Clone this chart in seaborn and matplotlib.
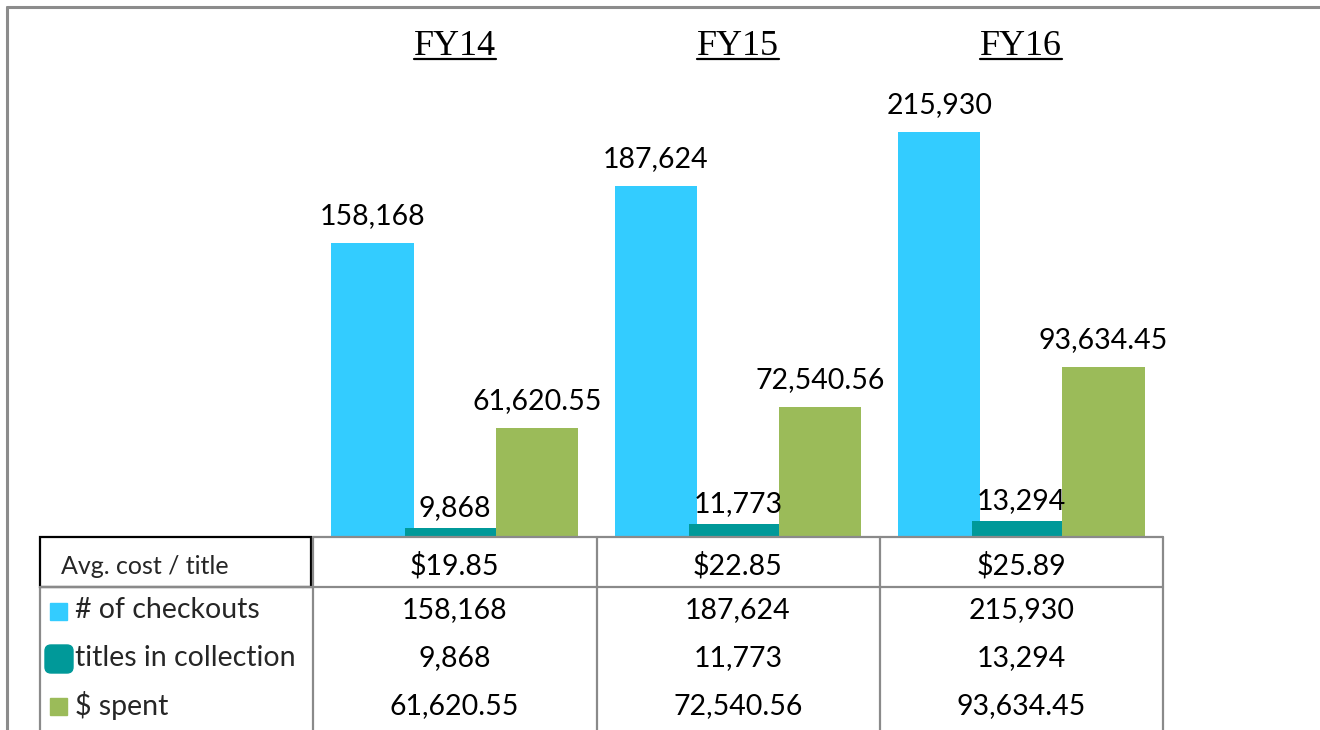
import numpy as np
import pandas as pd
import matplotlib.pyplot as plt
import matplotlib.transforms as mtransforms
from matplotlib.lines import Line2D
from matplotlib.patches import Rectangle, FancyBboxPatch
import seaborn as sns

years = ["FY14", "FY15", "FY16"]
series = ["# of checkouts", "titles in collection", "$ spent"]
checkouts = [158168, 187624, 215930]
titles = [9868, 11773, 13294]
spent = [61620.55, 72540.56, 93634.45]
avg_cost = ["$19.85", "$22.85", "$25.89"]
colors = ["#33CCFF", "#009999", "#9BBB59"]

checkout_lbl = [f"{v:,}" for v in checkouts]
title_lbl = [f"{v:,}" for v in titles]
spent_lbl = [f"{v:,.2f}" for v in spent]

df = pd.DataFrame({
    "year": years * 3,
    "series": np.repeat(series, 3),
    "value": checkouts + titles + spent,
})

sns.set_theme(style="white")
plt.rcParams["font.family"] = ["Lato", "DejaVu Sans"]

W, H = 1320, 730
fig = plt.figure(figsize=(W / 100, H / 100), dpi=100)
fig.patch.set_facecolor("white")


def fx(px):
    return px / W


def fy(py):
    return 1 - py / H


ax = fig.add_axes([fx(313), fy(537), fx(1163) - fx(313), fy(20) - fy(537)])
sns.barplot(data=df, x="year", y="value", hue="series", palette=colors,
            width=0.87, gap=0, saturation=1, errorbar=None, legend=False,
            linewidth=0, ax=ax)
ax.set_xlim(-0.5, 2.5)
ax.set_ylim(5000, 274000)
ax.axis("off")

# teal bars sit a bit wider, over the blue and under the green
for p in ax.containers[0]:
    p.set_zorder(1)
for p in ax.containers[1]:
    w = p.get_width()
    p.set_x(p.get_x() - w * 0.1)
    p.set_width(w * 1.2)
    p.set_zorder(2)
for p in ax.containers[2]:
    p.set_zorder(3)

fs = 20.5
for cont, labels, pad in zip(ax.containers, [checkout_lbl, title_lbl, spent_lbl], [10, 5, 10]):
    ax.bar_label(cont, labels=labels, padding=pad, fontsize=fs, color="black", zorder=5)

# year headers, underlined
trans = mtransforms.blended_transform_factory(ax.transData, fig.transFigure)
fig.canvas.draw()
renderer = fig.canvas.get_renderer()
for i, yr in enumerate(years):
    t = ax.text(i, fy(55), yr, transform=trans, ha="center", va="baseline",
                family="Liberation Serif", fontsize=26, color="black")
    bb = t.get_window_extent(renderer)
    fig.add_artist(Line2D([bb.x0 / W, bb.x1 / W], [fy(59), fy(59)],
                          transform=fig.transFigure, color="black", lw=1.6))

# outer frame
frame = "#8C8C8C"
fig.add_artist(Line2D([fx(7), fx(1320)], [fy(7), fy(7)], color=frame, lw=2.2))
fig.add_artist(Line2D([fx(7), fx(7)], [fy(7), fy(730)], color=frame, lw=2.2))

# table grid
grid = "#8A8A8A"
for px in [313, 597, 880, 1163]:
    fig.add_artist(Line2D([fx(px), fx(px)], [fy(537), fy(730)], color=grid, lw=1.6))
fig.add_artist(Line2D([fx(40), fx(40)], [fy(587), fy(730)], color=grid, lw=1.6))
fig.add_artist(Line2D([fx(313), fx(1163)], [fy(537), fy(537)], color=grid, lw=1.6))
fig.add_artist(Line2D([fx(40), fx(1163)], [fy(587), fy(587)], color=grid, lw=1.6))
fig.add_artist(Rectangle((fx(40), fy(587)), fx(311) - fx(40), fy(537) - fy(587),
                         fill=False, ec="black", lw=1.6, transform=fig.transFigure))

fig.text(fx(61), fy(567), "Avg. cost / title", fontsize=18, va="center", ha="left",
         parse_math=False)
row_y = [610, 658, 706]
for yy, name in zip(row_y, series):
    fig.text(fx(75), fy(yy), name, fontsize=fs, va="center", ha="left", parse_math=False)

# legend keys
dpi_t = fig.dpi_scale_trans
fig.add_artist(Rectangle((50 / 100, (H - 620) / 100), 0.17, 0.17, color=colors[0],
                         transform=dpi_t))
fig.add_artist(FancyBboxPatch((45 / 100, (H - 673) / 100), 0.28, 0.28,
                              boxstyle="round,pad=0,rounding_size=0.06",
                              color=colors[1], transform=dpi_t))
fig.add_artist(Rectangle((50 / 100, (H - 715) / 100), 0.17, 0.17, color=colors[2],
                         transform=dpi_t))

# table values
for i in range(len(years)):
    for yy, txt in zip([566] + row_y,
                       [avg_cost[i], checkout_lbl[i], title_lbl[i], spent_lbl[i]]):
        ax.text(i, fy(yy), txt, transform=trans, ha="center", va="center",
                fontsize=fs, color="black", parse_math=False)

fig.savefig("out.png", dpi=100, facecolor="white")
